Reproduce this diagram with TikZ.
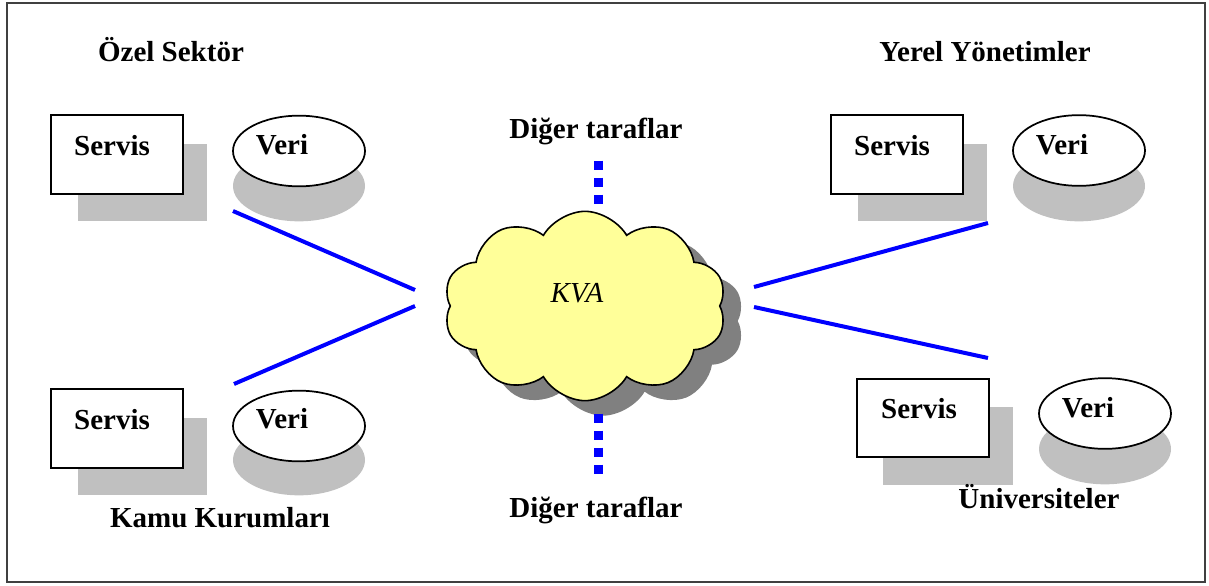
\documentclass[tikz,border=0pt]{standalone}
\usepackage{fontspec}
\setmainfont{Liberation Serif}
\usetikzlibrary{shapes.symbols,shapes.geometric}
\definecolor{shadelight}{RGB}{192,192,192}
\definecolor{shadedark}{RGB}{128,128,128}
\definecolor{cloudfill}{RGB}{255,255,153}
\definecolor{linkblue}{RGB}{0,0,255}
\tikzset{
  lbl/.style={font=\fontsize{21.75}{26}\selectfont\bfseries, inner sep=0pt, anchor=base},
  srvbox/.style={draw=black, line width=1.5pt, fill=white, minimum width=99pt, minimum height=59pt, inner sep=0pt},
  srvshadow/.style={fill=shadelight, draw=none, minimum width=97pt, minimum height=58pt, inner sep=0pt},
  databox/.style={ellipse, draw=black, line width=1.3pt, fill=white, minimum width=99pt, minimum height=53pt, inner sep=0pt},
  datashadow/.style={ellipse, fill=shadelight, draw=none, minimum width=99pt, minimum height=53pt, inner sep=0pt},
  link/.style={draw=linkblue, line width=3pt},
  dotlink/.style={draw=linkblue, line width=6.75pt, dash pattern=on 6.75pt off 6pt},
  kvacloud/.style={cloud, cloud puffs=10, cloud puff arc=120, aspect=1.5, minimum width=212pt, minimum height=142pt, inner sep=0pt}
}
\begin{document}
\begin{tikzpicture}[x=0.75pt,y=-0.75pt]
\useasboundingbox (0,0) rectangle (1209,585);
\draw[line width=1.5pt, black!75] (7,3) rectangle (1205,582);

% shadows
\node[srvshadow] (tlbs) at (142.5,182.5) {};
\node[srvshadow] (blbs) at (142.5,456.5) {};
\node[srvshadow] (trbs) at (922.5,182.5) {};
\node[srvshadow] (brbs) at (948,446) {};
\node[datashadow] (tles) at (299,186) {};
\node[datashadow] (bles) at (299,460) {};
\node[datashadow] (tres) at (1079,186) {};
\node[datashadow] (bres) at (1105,449) {};

% boxes and ellipses
\node[srvbox] (tlbox) at (117,154.5) {};
\node[srvbox] (blbox) at (117,428.5) {};
\node[srvbox] (trbox) at (897,154.5) {};
\node[srvbox] (brbox) at (922.5,418) {};
\node[databox] (tlell) at (299,151) {};
\node[databox] (blell) at (299,426) {};
\node[databox] (trell) at (1079,150.5) {};
\node[databox] (brell) at (1105,413.5) {};

% texts
\node[lbl] (tltitle) at (171,61) {Özel Sektör};
\node[lbl] (trtitle) at (985,62) {Yerel Yönetimler};
\node[lbl] (bltitle) at (220,527) {Kamu Kurumları};
\node[lbl] (brtitle) at (1039,508) {Üniversiteler};
\node[lbl] (toptxt) at (596,138) {Diğer taraflar};
\node[lbl] (bottxt) at (596,517) {Diğer taraflar};
\node[lbl] at (112,155) {Servis};
\node[lbl] at (112,429) {Servis};
\node[lbl] at (892,155) {Servis};
\node[lbl] at (919,418) {Servis};
\node[lbl] at (282,154) {Veri};
\node[lbl] at (282,428) {Veri};
\node[lbl] at (1062,154) {Veri};
\node[lbl] at (1088,417) {Veri};

% cloud
\node[kvacloud, fill=shadedark] (kvashadow) at (603,321) {};
\node[kvacloud, fill=cloudfill, draw=black, line width=1.2pt] (kva) at (585,306) {};
\node[font=\fontsize{21.75}{26}\selectfont\itshape, inner sep=0pt, anchor=base] at (577,302) {KVA};

% connectors
\coordinate (l1a) at (233,211);
\coordinate (l1b) at (415,290);
\coordinate (l2a) at (234,384);
\coordinate (l2b) at (415,306);
\coordinate (r1a) at (754,287);
\coordinate (r1b) at (988,223);
\coordinate (r2a) at (754,307);
\coordinate (r2b) at (988,358);
\draw[link] (l1a) -- (l1b);
\draw[link] (l2a) -- (l2b);
\draw[link] (r1a) -- (r1b);
\draw[link] (r2a) -- (r2b);
\coordinate (d1a) at (598,160.5);
\coordinate (d1b) at (598,206);
\coordinate (d2a) at (598,413.5);
\coordinate (d2b) at (598,477);
\draw[dotlink] (d1a) -- (d1b);
\draw[dotlink] (d2a) -- (d2b);
\end{tikzpicture}
\end{document}
